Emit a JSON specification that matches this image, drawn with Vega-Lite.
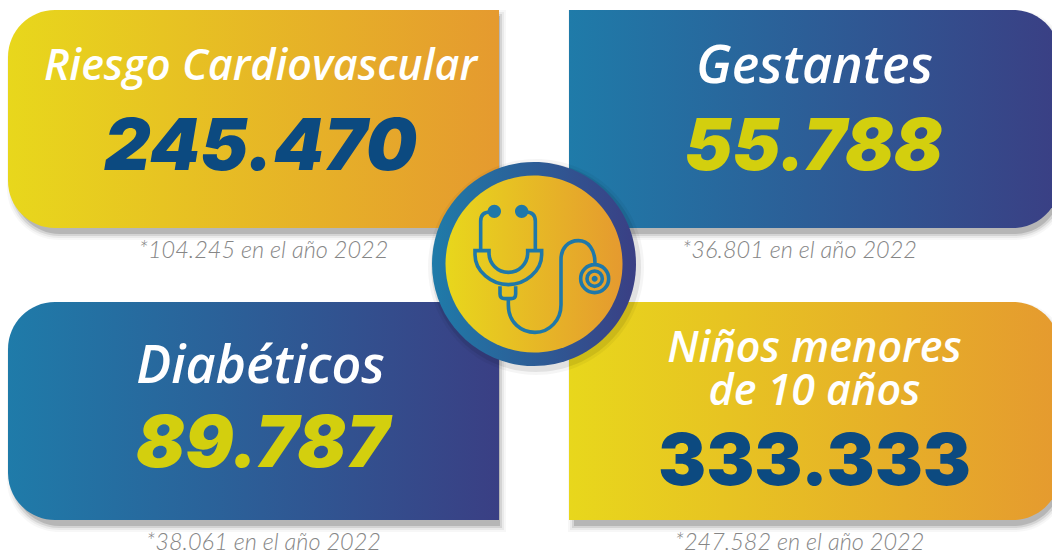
{"$schema":"https://vega.github.io/schema/vega-lite/v6.json","width":1052,"height":552,"padding":0,"autosize":{"type":"none"},"background":"white","config":{"view":{"stroke":null},"text":{"font":"Lato"}},
"data":{"values":[
{"name":"Riesgo Cardiovascular","col":"left","row":"top","side":"left","cifra":"245.470","nota":"*104.245 en el año 2022"},
{"name":"Gestantes","col":"right","row":"top","side":"right","cifra":"55.788","nota":"*36.801 en el año 2022"},
{"name":"Diabéticos","col":"left","row":"bottom","side":"left","cifra":"89.787","nota":"*38.061 en el año 2022"},
{"name":"Niños menores\nde 10 años","col":"right","row":"bottom","side":"right","cifra":"333.333","nota":"*247.582 en el año 2022"},
{"name":"icono","col":"center","row":"mid","side":"center"}
]},
"encoding":{
"x":{"field":"col","type":"nominal","axis":null,"scale":{"type":"point","domain":["left","center","right"],"range":[253.5,814.5],"padding":0}},
"y":{"field":"row","type":"nominal","axis":null,"scale":{"type":"point","domain":["top","mid","bottom"],"range":[119,411],"padding":0}}
},
"layer":[
{"transform":[{"filter":"datum.side==='left'"}],"mark":{"type":"rect","width":499,"height":230,"xOffset":3,"yOffset":6,"cornerRadiusTopLeft":52,"cornerRadiusBottomLeft":52,"color":"#000","opacity":0.03}},
{"transform":[{"filter":"datum.side==='left'"}],"mark":{"type":"rect","width":495,"height":226,"xOffset":3,"yOffset":6,"cornerRadiusTopLeft":50,"cornerRadiusBottomLeft":50,"color":"#000","opacity":0.05}},
{"transform":[{"filter":"datum.side==='left'"}],"mark":{"type":"rect","width":491,"height":222,"xOffset":3,"yOffset":6,"cornerRadiusTopLeft":48,"cornerRadiusBottomLeft":48,"color":"#000","opacity":0.09}},
{"transform":[{"filter":"datum.side==='left'"}],"mark":{"type":"rect","width":487,"height":218,"xOffset":3,"yOffset":6,"cornerRadiusTopLeft":47,"cornerRadiusBottomLeft":47,"color":"#000","opacity":0.14}},
{"transform":[{"filter":"datum.side==='right'"}],"mark":{"type":"rect","width":499,"height":230,"xOffset":3,"yOffset":6,"cornerRadiusTopRight":52,"cornerRadiusBottomRight":52,"color":"#000","opacity":0.03}},
{"transform":[{"filter":"datum.side==='right'"}],"mark":{"type":"rect","width":495,"height":226,"xOffset":3,"yOffset":6,"cornerRadiusTopRight":50,"cornerRadiusBottomRight":50,"color":"#000","opacity":0.05}},
{"transform":[{"filter":"datum.side==='right'"}],"mark":{"type":"rect","width":491,"height":222,"xOffset":3,"yOffset":6,"cornerRadiusTopRight":48,"cornerRadiusBottomRight":48,"color":"#000","opacity":0.09}},
{"transform":[{"filter":"datum.side==='right'"}],"mark":{"type":"rect","width":487,"height":218,"xOffset":3,"yOffset":6,"cornerRadiusTopRight":47,"cornerRadiusBottomRight":47,"color":"#000","opacity":0.14}},
{"transform":[{"filter":"datum.row==='top'&&datum.col==='left'"}],"mark":{"type":"rect","width":491,"height":218,"cornerRadiusTopLeft":47,"cornerRadiusBottomLeft":47,"fill":{"gradient":"linear","x1":0,"x2":1,"y1":0,"y2":0,"stops":[{"offset":0,"color":"#e8d71c"},{"offset":1,"color":"#e59a2f"}]}}},
{"transform":[{"filter":"datum.row==='top'&&datum.col==='right'"}],"mark":{"type":"rect","width":491,"height":218,"cornerRadiusTopRight":47,"cornerRadiusBottomRight":47,"fill":{"gradient":"linear","x1":0,"x2":1,"y1":0,"y2":0,"stops":[{"offset":0,"color":"#1f7ba9"},{"offset":1,"color":"#3a3f84"}]}}},
{"transform":[{"filter":"datum.row==='bottom'&&datum.col==='left'"}],"mark":{"type":"rect","width":491,"height":218,"cornerRadiusTopLeft":47,"cornerRadiusBottomLeft":47,"fill":{"gradient":"linear","x1":0,"x2":1,"y1":0,"y2":0,"stops":[{"offset":0,"color":"#1f7ba9"},{"offset":1,"color":"#3a3f84"}]}}},
{"transform":[{"filter":"datum.row==='bottom'&&datum.col==='right'"}],"mark":{"type":"rect","width":491,"height":218,"cornerRadiusTopRight":47,"cornerRadiusBottomRight":47,"fill":{"gradient":"linear","x1":0,"x2":1,"y1":0,"y2":0,"stops":[{"offset":0,"color":"#e8d71c"},{"offset":1,"color":"#e59a2f"}]}}},
{"transform":[{"filter":"datum.side==='center'"}],"mark":{"type":"rect","width":216,"height":216,"cornerRadius":108,"yOffset":2,"xOffset":2,"color":"#000","opacity":0.04}},
{"transform":[{"filter":"datum.side==='center'"}],"mark":{"type":"rect","width":210,"height":210,"cornerRadius":105,"yOffset":2,"xOffset":2,"color":"#000","opacity":0.08}},
{"transform":[{"filter":"datum.side==='center'"}],"mark":{"type":"rect","width":204,"height":204,"cornerRadius":102,"yOffset":-1,"fill":{"gradient":"linear","x1":0,"x2":1,"y1":0,"y2":0,"stops":[{"offset":0,"color":"#1f7ba9"},{"offset":1,"color":"#3a3f84"}]}}},
{"transform":[{"filter":"datum.side==='center'"}],"mark":{"type":"rect","width":177,"height":177,"cornerRadius":88.5,"yOffset":-1,"fill":{"gradient":"linear","x1":0,"x2":1,"y1":0,"y2":0,"stops":[{"offset":0,"color":"#e8d71c"},{"offset":1,"color":"#e59a2f"}]}}},
{"transform":[{"filter":"datum.side==='center'"}],"mark":{"type":"point","yOffset":-1,"opacity":1,"filled":false,"stroke":"#1f78a9","strokeWidth":3.6,"size":0.4444,"shape":"M-132,-156 Q-160,-156 -160,-128 L-160,-38 M-24,-156 Q4,-156 4,-128 L4,-38 M-177,-40 L-135,-40 L-135,-33 A58,58 0 0 0 -19,-33 L-19,-40 L23,-40 L23,-28 C23,22 -27,62 -77,62 C-127,62 -177,22 -177,-28 Z M-102,67 L-102,90 Q-102,104 -87,104 L-69,104 Q-55,104 -55,90 L-55,67 M-77,104 L-77,122 C-77,177 -37,205 3,205 C48,205 81,167 81,122 L81,-13 C81,-48 103,-70 133,-70 C163,-70 183,-43 183,-3 M140,44 A42,42 0 1 1 224,44 A42,42 0 1 1 140,44 Z M159,44 A23,23 0 1 1 205,44 A23,23 0 1 1 159,44 Z"}},
{"transform":[{"filter":"datum.side==='center'"}],"mark":{"type":"point","yOffset":-1,"opacity":1,"filled":true,"fill":"#1f78a9","strokeWidth":0,"size":0.4444,"shape":"M-139,-158 A20,20 0 1 1 -99,-158 A20,20 0 1 1 -139,-158 Z M-57,-158 A20,20 0 1 1 -17,-158 A20,20 0 1 1 -57,-158 Z M173,44 A9,9 0 1 1 191,44 A9,9 0 1 1 173,44 Z"}},
{"transform":[{"filter":"datum.name==='Riesgo Cardiovascular'"}],"mark":{"type":"text","font":"Open Sans","fontSize":43,"fontWeight":600,"fontStyle":"italic","color":"white","dx":7,"dy":-52,"baseline":"middle"},"encoding":{"text":{"field":"name"}}},
{"transform":[{"filter":"datum.name==='Gestantes'"}],"mark":{"type":"text","font":"Open Sans","fontSize":52,"fontWeight":600,"fontStyle":"italic","color":"white","dy":-52,"baseline":"middle"},"encoding":{"text":{"field":"name"}}},
{"transform":[{"filter":"datum.name==='Diabéticos'"}],"mark":{"type":"text","font":"Open Sans","fontSize":52,"fontWeight":600,"fontStyle":"italic","color":"white","dx":7,"dy":-44,"baseline":"middle"},"encoding":{"text":{"field":"name"}}},
{"transform":[{"filter":"datum.row==='bottom'&&datum.col==='right'"}],"mark":{"type":"text","font":"Open Sans","fontSize":43,"fontWeight":600,"fontStyle":"italic","color":"white","lineBreak":"\n","lineHeight":43,"dy":-62,"baseline":"middle"},"encoding":{"text":{"field":"name"}}},
{"transform":[{"filter":"datum.name==='Riesgo Cardiovascular'"}],"mark":{"type":"text","font":"Inter","fontSize":72,"fontWeight":900,"fontStyle":"italic","color":"#0c4a80","dx":7,"dy":29,"baseline":"middle"},"encoding":{"text":{"field":"cifra"}}},
{"transform":[{"filter":"datum.name==='Gestantes'"}],"mark":{"type":"text","font":"Inter","fontSize":72,"fontWeight":900,"fontStyle":"italic","color":"#d3cf0e","dx":-1,"dy":29,"baseline":"middle"},"encoding":{"text":{"field":"cifra"}}},
{"transform":[{"filter":"datum.name==='Diabéticos'"}],"mark":{"type":"text","font":"Inter","fontSize":72,"fontWeight":900,"fontStyle":"italic","color":"#d3cf0e","dx":9,"dy":34,"baseline":"middle"},"encoding":{"text":{"field":"cifra"}}},
{"transform":[{"filter":"datum.row==='bottom'&&datum.col==='right'"}],"mark":{"type":"text","font":"Inter","fontSize":72,"fontWeight":900,"color":"#0c4a80","dy":52,"baseline":"middle"},"encoding":{"text":{"field":"cifra"}}},
{"transform":[{"filter":"datum.side==='left'"}],"mark":{"type":"text","fontSize":23.5,"fontWeight":300,"fontStyle":"italic","color":"#868686","dx":10,"dy":132,"baseline":"middle"},"encoding":{"text":{"field":"nota"}}},
{"transform":[{"filter":"datum.side==='right'"}],"mark":{"type":"text","fontSize":23.5,"fontWeight":300,"fontStyle":"italic","color":"#868686","dx":-15,"dy":132,"baseline":"middle"},"encoding":{"text":{"field":"nota"}}}
]}
